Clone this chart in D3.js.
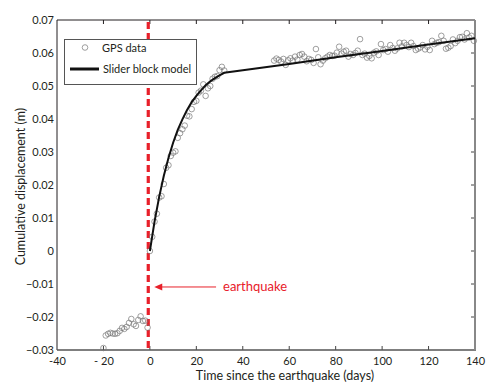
<!DOCTYPE html>
<html>
<head>
<meta charset="utf-8">
<script src="https://cdn.jsdelivr.net/npm/d3@7"></script>
<style>
  body { margin: 0; background: #fff; }
  text { font-family: Lato, "Open Sans", sans-serif; fill: #231f20; }
</style>
</head>
<body>
<div id="chart"></div>
<script>
const width = 498;
const height = 390;

// GPS daily solutions [day, displacement (m)]
const preQuake = [
  [-20, -0.0294], [-19, -0.0256], [-18, -0.0251], [-17, -0.0248], [-16, -0.0250],
  [-15, -0.0251], [-14, -0.0249], [-13, -0.0242], [-12, -0.0233], [-11, -0.0236],
  [-10, -0.0230], [-9, -0.0218], [-8, -0.0206], [-7, -0.0222], [-6, -0.0227],
  [-5, -0.0209], [-4, -0.0198], [-3, -0.0212], [-2, -0.0211], [-1, -0.0232]
];
const earlyPost = [
  [0, 0.0000], [1, 0.0043], [2, 0.0089], [3, 0.0113], [4, 0.0162], [5, 0.0166],
  [6, 0.0203], [7, 0.0252], [8, 0.0260], [9, 0.0288], [10, 0.0298], [11, 0.0302],
  [12, 0.0343], [13, 0.0357], [14, 0.0369], [15, 0.0380], [16, 0.0410], [17, 0.0408],
  [18, 0.0430], [19, 0.0452], [20, 0.0455], [21, 0.0480], [22, 0.0486], [23, 0.0505],
  [24, 0.0470], [25, 0.0493], [26, 0.0500], [27, 0.0522], [28, 0.0528], [29, 0.0530],
  [30, 0.0548], [31, 0.0558], [32, 0.0547]
];
const latePost = [
  [53.5, 0.0577], [54.5, 0.0583], [55.5, 0.0579], [56.5, 0.0574], [57.5, 0.0582],
  [58.5, 0.0564], [59.5, 0.0578], [60.5, 0.0584], [61.5, 0.0577], [62.5, 0.0589],
  [63.5, 0.0580], [64.5, 0.0594], [65.5, 0.0597], [66.5, 0.0589], [67.5, 0.0575],
  [68.5, 0.0582], [69.5, 0.0579], [70.5, 0.0570], [71.5, 0.0612], [72.5, 0.0587],
  [73.5, 0.0566], [74.5, 0.0577], [75.5, 0.0584], [76.5, 0.0589], [77.5, 0.0594],
  [78.5, 0.0591], [79.5, 0.0592], [80.5, 0.0601], [81.5, 0.0619], [82.5, 0.0598],
  [83.5, 0.0604], [84.5, 0.0607], [85.5, 0.0589], [86.5, 0.0597], [87.5, 0.0594],
  [88.5, 0.0600], [89.5, 0.0607], [90.5, 0.0642], [91.5, 0.0594], [92.5, 0.0598],
  [93.5, 0.0586], [94.5, 0.0591], [95.5, 0.0584], [96.5, 0.0601], [97.5, 0.0605],
  [98.5, 0.0594], [99.5, 0.0627], [100.5, 0.0609], [101.5, 0.0612], [102.5, 0.0604],
  [103.5, 0.0624], [104.5, 0.0615], [105.5, 0.0607], [106.5, 0.0614], [107.5, 0.0631],
  [108.5, 0.0620], [109.5, 0.0631], [110.5, 0.0624], [111.5, 0.0618], [112.5, 0.0631],
  [113.5, 0.0621], [114.5, 0.0609], [115.5, 0.0613], [116.5, 0.0617], [117.5, 0.0624],
  [118.5, 0.0611], [119.5, 0.0619], [120.5, 0.0609], [121.5, 0.0637], [122.5, 0.0627],
  [123.5, 0.0631], [124.5, 0.0633], [125.5, 0.0652], [126.5, 0.0637], [127.5, 0.0613],
  [128.5, 0.0616], [129.5, 0.0621], [130.5, 0.0641], [131.5, 0.0630], [132.5, 0.0637],
  [133.5, 0.0648], [134.5, 0.0649], [135.5, 0.0641], [136.5, 0.0660], [137.5, 0.0647],
  [138.5, 0.0652], [139.5, 0.0637]
];

// slider block model curve
const modelDays = [0, 2, 4, 6, 8, 10, 12, 14, 16, 18, 20, 22, 24, 26, 28, 30, 32, 40, 60, 80, 100, 120, 140];
const modelDisp = [0, 0.0089, 0.0164, 0.0228, 0.0282, 0.0328, 0.0367, 0.0399, 0.0427, 0.0451,
  0.0470, 0.0487, 0.0502, 0.0514, 0.0524, 0.0532, 0.0540, 0.0548, 0.0567, 0.0587, 0.0606, 0.0626, 0.0645];

const quakeDay = -0.7;
const xTicks = [-40, -20, 0, 20, 40, 60, 80, 100, 120, 140];
const yTicks = [-0.03, -0.02, -0.01, 0, 0.01, 0.02, 0.03, 0.04, 0.05, 0.06, 0.07];

const red = "#e8202a";

const svg = d3.select("#chart")
    .append("svg")
    .attr("width", width)
    .attr("height", height);

const margin = { left: 57, right: 23, top: 20, bottom: 40 };

const x = d3.scaleLinear().domain([-40, 140]).range([margin.left, width - margin.right]);
const y = d3.scaleLinear().domain([-0.03, 0.07]).range([height - margin.bottom, margin.top]);

// axes
const xAxis = svg.append("g")
    .attr("transform", `translate(0,${y(-0.03)})`)
    .call(d3.axisBottom(x).tickValues(xTicks).tickSize(0).tickPadding(7)
        .tickFormat(d => d === -20 ? "- 20" : d));
xAxis.select(".domain").remove();
xAxis.selectAll("text").attr("font-size", 11).style("font-family", "Lato, sans-serif").attr("fill", "#231f20");

const yAxis = svg.append("g")
    .attr("transform", `translate(${x(-40)},0)`)
    .call(d3.axisLeft(y).tickValues(yTicks).tickSize(0).tickPadding(3)
        .tickFormat(d => Math.abs(d) < 1e-9 ? "0" : d3.format(".2f")(d)));
yAxis.select(".domain").remove();
yAxis.selectAll("text").attr("font-size", 11).style("font-family", "Lato, sans-serif").attr("fill", "#231f20");

// top ticks
svg.append("g").selectAll("line")
    .data(xTicks.slice(1, -1))
    .enter().append("line")
    .attr("x1", d => x(d)).attr("x2", d => x(d))
    .attr("y1", y(0.07)).attr("y2", y(0.07) + 4)
    .attr("stroke", "#231f20").attr("stroke-width", 1);

// bottom ticks
svg.append("g").selectAll("line")
    .data(xTicks.slice(1, -1))
    .enter().append("line")
    .attr("x1", d => x(d)).attr("x2", d => x(d))
    .attr("y1", y(-0.03)).attr("y2", y(-0.03) - 4)
    .attr("stroke", "#444").attr("stroke-width", 1);

// right ticks
svg.append("g").selectAll("line")
    .data(yTicks.slice(1, -1))
    .enter().append("line")
    .attr("x1", x(140)).attr("x2", x(140) - 4)
    .attr("y1", d => y(d)).attr("y2", d => y(d))
    .attr("stroke", "#444").attr("stroke-width", 1);

// frame
svg.append("line").attr("x1", x(-40)).attr("x2", x(140)).attr("y1", y(0.07)).attr("y2", y(0.07))
    .attr("stroke", "#231f20").attr("stroke-width", 1);
svg.append("line").attr("x1", x(-40)).attr("x2", x(-40)).attr("y1", y(0.07)).attr("y2", y(-0.03))
    .attr("stroke", "#231f20").attr("stroke-width", 1);
svg.append("line").attr("x1", x(-40)).attr("x2", x(140) + 1).attr("y1", y(-0.03)).attr("y2", y(-0.03))
    .attr("stroke", "#555").attr("stroke-width", 1.6);
svg.append("line").attr("x1", x(140)).attr("x2", x(140)).attr("y1", y(0.07)).attr("y2", y(-0.03))
    .attr("stroke", "#888").attr("stroke-width", 2);

// earthquake line
svg.append("line")
    .attr("x1", x(quakeDay)).attr("x2", x(quakeDay))
    .attr("y1", y(0.07) + 2).attr("y2", y(-0.03))
    .attr("stroke", red).attr("stroke-width", 3.2)
    .attr("stroke-dasharray", "7,4");

// GPS data
const gps = preQuake.concat(earlyPost, latePost);
svg.append("g").selectAll("circle")
    .data(gps)
    .enter().append("circle")
    .attr("cx", d => x(d[0]))
    .attr("cy", d => y(d[1]))
    .attr("r", 2.8)
    .attr("fill", "none")
    .attr("stroke", "#777")
    .attr("stroke-width", 0.7);

// model
const model = modelDays.map((d, i) => [d, modelDisp[i]]);
svg.append("path")
    .datum(model)
    .attr("d", d3.line().x(d => x(d[0])).y(d => y(d[1])))
    .attr("fill", "none")
    .attr("stroke", "#111")
    .attr("stroke-width", 2);

// earthquake annotation
const arrowY = y(-0.0109);
svg.append("line")
    .attr("x1", x(quakeDay) + 12).attr("x2", x(28.5))
    .attr("y1", arrowY).attr("y2", arrowY)
    .attr("stroke", red).attr("stroke-width", 1);
svg.append("path")
    .attr("d", `M${x(quakeDay) + 6},${arrowY} l8,-3.5 l0,7 z`)
    .attr("fill", red);
svg.append("text")
    .attr("x", x(31.5)).attr("y", arrowY + 4.5)
    .attr("font-size", 13)
    .style("fill", red)
    .text("earthquake");

// legend
const lg = svg.append("g");
lg.append("rect")
    .attr("x", 64.5).attr("y", 39.5).attr("width", 132).attr("height", 45)
    .attr("fill", "#fff").attr("stroke", "#555").attr("stroke-width", 1);
lg.append("circle").attr("cx", 85).attr("cy", 47.5).attr("r", 2.8)
    .attr("fill", "none").attr("stroke", "#777").attr("stroke-width", 0.7);
lg.append("text").attr("x", 102).attr("y", 51.5).attr("font-size", 11).text("GPS data");
lg.append("line").attr("x1", 70).attr("x2", 99).attr("y1", 69).attr("y2", 69)
    .attr("stroke", "#111").attr("stroke-width", 3);
lg.append("text").attr("x", 103).attr("y", 73).attr("font-size", 11).text("Slider block model");

// axis titles
svg.append("text")
    .attr("x", (x(-40) + x(140)) / 2 + 19).attr("y", 380)
    .attr("text-anchor", "middle").attr("font-size", 12.5)
    .text("Time since the earthquake (days)");
svg.append("text")
    .attr("transform", `translate(25,${y(0.0195)}) rotate(-90)`)
    .attr("text-anchor", "middle").attr("font-size", 12.5)
    .text("Cumulative displacement (m)");
</script>
</body>
</html>
